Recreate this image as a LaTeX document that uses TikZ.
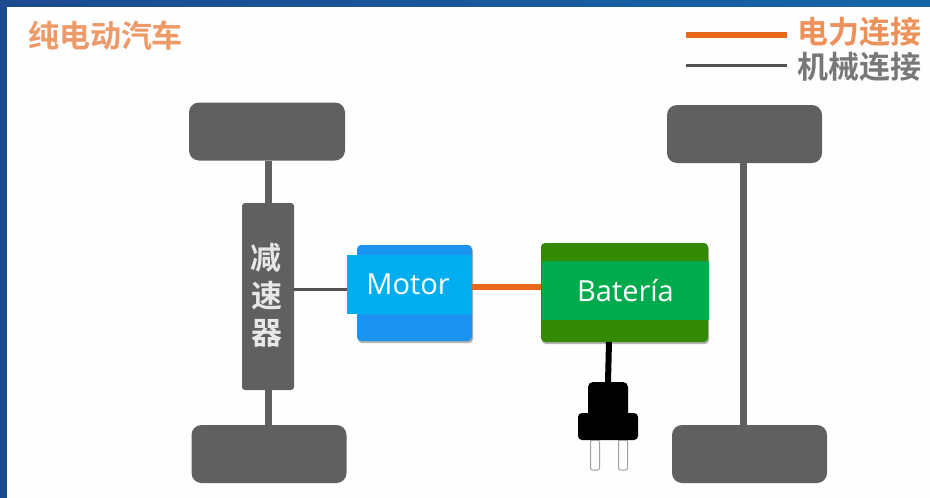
\documentclass[tikz,border=0pt]{standalone}
\usepackage{fontspec}
\setmainfont{Open Sans}
\newfontfamily\cjk[BoldFont={Noto Sans CJK SC Bold}]{Noto Sans CJK SC}
\usetikzlibrary{shadows}
\definecolor{marco}{HTML}{1B4A8F}
\definecolor{marcoclaro}{HTML}{1566A6}
\definecolor{gris}{HTML}{606060}
\definecolor{naranja}{HTML}{E8681C}
\definecolor{titulo}{HTML}{EE9A68}
\definecolor{azulfondo}{HTML}{1A94F0}
\definecolor{azul}{HTML}{00AEEF}
\definecolor{verdefondo}{HTML}{348A05}
\definecolor{verde}{HTML}{00AB4E}
\tikzset{
  caja/.style={inner sep=0pt, outer sep=0pt},
  rueda/.style={caja, fill=gris, rounded corners=10pt, minimum width=155pt, minimum height=58pt},
  sombra/.style={drop shadow={shadow xshift=1pt, shadow yshift=-2pt, opacity=0.6}},
  etiqueta/.style={caja, text=white, font=\fontsize{29}{34}\selectfont},
  mecanico/.style={draw=gris, line width=7pt},
  eje/.style={draw=gris!85!black, line width=3pt},
  electrico/.style={draw=naranja, line width=6pt},
  pata/.style={caja, draw=gris!60, fill=white, line width=1pt, rounded corners=2pt, minimum width=9pt, minimum height=30pt},
  chino/.style={caja, font=\cjk\bfseries\fontsize{31}{34}\selectfont}
}
\begin{document}
\begin{tikzpicture}[x=1pt,y=-1pt]
  \useasboundingbox (0,0) rectangle (930,498);
  % Frame of the slide
  \fill[white!99!gray] (0,0) rectangle (930,498);
  \shade[left color=marco, right color=marcoclaro] (0,0) rectangle (930,6);
  \fill[marco] (0,0) rectangle (7,498);
  % Titles
  \node[chino, text=titulo, anchor=west] (titulo) at (28,36) {纯电动汽车};
  % Legend
  \coordinate (electricoA) at (686,35);
  \coordinate (electricoB) at (787,35);
  \coordinate (mecanicoA) at (686,65);
  \coordinate (mecanicoB) at (787,65);
  \draw[naranja, line width=6pt] (electricoA) -- (electricoB);
  \draw[eje] (mecanicoA) -- (mecanicoB);
  \node[chino, text=titulo!80!naranja, anchor=west] (leyendaA) at (797,32) {电力连接};
  \node[chino, text=gris!85, anchor=west] (leyendaB) at (797,67) {机械连接};
  % Wheels
  \node[rueda, minimum width=156pt] (ruedaTL) at (267,131.5) {};
  \node[rueda] (ruedaTR) at (744.5,134) {};
  \node[rueda] (ruedaBL) at (269,454) {};
  \node[rueda] (ruedaBR) at (749.5,454) {};
  % Reducer
  \node[caja, fill=gris, rounded corners=3pt, minimum width=52pt, minimum height=187pt] (reductor) at (268,296.5) {};
  \node[chino, text=white!85!gris] (reductorA) at (266,258) {减};
  \node[chino, text=white!85!gris] (reductorB) at (267,296) {速};
  \node[chino, text=white!85!gris] (reductorC) at (267,333) {器};
  % Motor
  \node[caja, fill=azulfondo, rounded corners=4pt, sombra, minimum width=115pt, minimum height=96pt] (motorFondo) at (414.5,293) {};
  \node[etiqueta, fill=azul, minimum width=125pt, minimum height=59pt] (motor) at (409.5,284.5) {\hspace{-3pt}Motor};
  % Battery
  \node[caja, fill=verdefondo, rounded corners=4pt, sombra, minimum width=167pt, minimum height=99pt] (bateriaFondo) at (624.5,292.5) {};
  \node[etiqueta, fill=verde, minimum width=167pt, minimum height=59pt] (bateria) at (625.5,290.5) {Batería};
  % Plug
  \node[pata] (pataA) at (595,455) {};
  \node[pata] (pataB) at (623,455) {};
  \node[caja, fill=black, rounded corners=5pt, minimum width=40pt, minimum height=36pt] (enchufe) at (608,400) {};
  \node[caja, fill=black, rounded corners=4pt, minimum width=60pt, minimum height=27pt] (base) at (608,426.5) {};
  % Connections
  \draw[mecanico] (reductor.north) -- (reductor.north |- ruedaTL.south);
  \draw[mecanico] (reductor.south) -- (reductor.south |- ruedaBL.north);
  \draw[mecanico] ([xshift=-1.5pt]ruedaTR.south) -- ([xshift=-1.5pt]ruedaTR.south |- ruedaBR.north);
  \draw[eje] ([yshift=7.5pt]reductor.east) -- ([yshift=7.5pt]reductor.east -| motor.west);
  \draw[electrico] ([yshift=-2.5pt]motor.east) -- ([yshift=-2.5pt]motor.east -| bateriaFondo.west);
  \draw[black, line width=6pt] (enchufe.north) -- ([xshift=1pt]enchufe.north |- bateriaFondo.south);
\end{tikzpicture}
\end{document}
